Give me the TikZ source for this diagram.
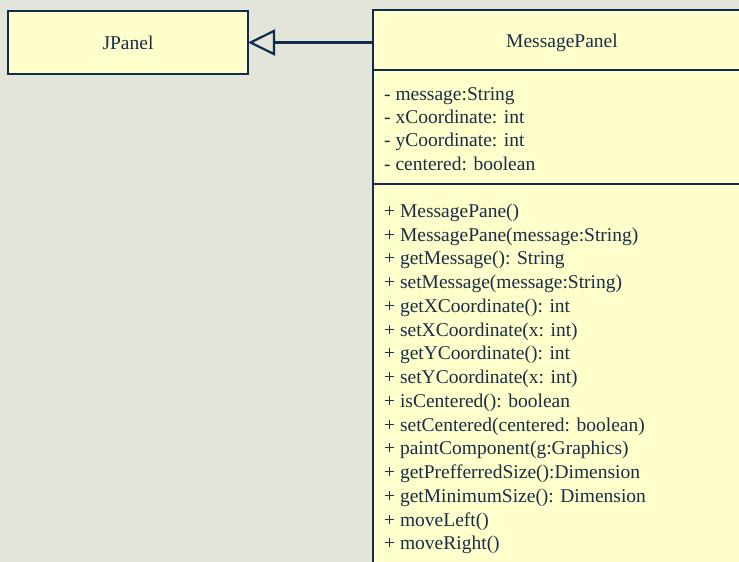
\documentclass[tikz,border=0pt]{standalone}
\usepackage{fontspec}
\setmainfont{Liberation Serif}
\usetikzlibrary{arrows.meta}

\definecolor{bgtone}{HTML}{E4E5DA}
\definecolor{umlfill}{HTML}{FFFFCC}
\definecolor{umlline}{HTML}{102C4C}
\definecolor{umltext}{HTML}{1A2D48}

\tikzset{
  classbox/.style={draw=umlline, line width=2.2pt, fill=umlfill, outer sep=0pt,
    text=umltext, font=\fontsize{19.5}{23.6}\selectfont},
  member/.style={text=umltext, font=\fontsize{19.5}{23.6}\selectfont,
    inner sep=0pt, anchor=base west},
  inherit/.style={draw=umlline, line width=2.2pt,
    -{Triangle[open, length=27pt, width=26pt]}}
}

\begin{document}
\begin{tikzpicture}[x=1pt, y=-1pt]
  \fill[bgtone] (0,0) rectangle (739,562);
  \useasboundingbox (0,0) rectangle (739,562);
  \clip (0,0) rectangle (739,562);

  % superclass
  \node[classbox, minimum width=240pt, minimum height=63pt, text height=15pt] (jpanel) at (128,42.5) {JPanel};

  % class MessagePanel: name, fields, methods
  \node[classbox, anchor=north west, minimum width=378pt, minimum height=60pt, text height=19pt] (msghead) at (373,10) {MessagePanel};
  \node[classbox, anchor=north west, minimum width=378pt, minimum height=114pt] (msgattr) at (msghead.south west) {};
  \node[classbox, anchor=north west, minimum width=378pt, minimum height=400pt] (msgops) at (msgattr.south west) {};

  % generalization
  \draw[inherit] (jpanel.east -| msghead.west) -- (jpanel.east);

  % fields
  \foreach \txt [count=\i] in {{- message:String}, {- xCoordinate: int},
      {- yCoordinate: int}, {- centered: boolean}} {
    \node[member] (attr\i) at (384, {100+23.4*(\i-1)}) {\txt};
  }

  % methods
  \foreach \txt [count=\i] in {{+ MessagePane()}, {+ MessagePane(message:String)},
      {+ getMessage(): String}, {+ setMessage(message:String)},
      {+ getXCoordinate(): int}, {+ setXCoordinate(x: int)},
      {+ getYCoordinate(): int}, {+ setYCoordinate(x: int)},
      {+ isCentered(): boolean}, {+ setCentered(centered: boolean)},
      {+ paintComponent(g:Graphics)}, {+ getPrefferredSize():Dimension},
      {+ getMinimumSize(): Dimension}, {+ moveLeft()}, {+ moveRight()}} {
    \node[member] (op\i) at (384, {217.3+23.76*(\i-1)}) {\txt};
  }
\end{tikzpicture}
\end{document}
